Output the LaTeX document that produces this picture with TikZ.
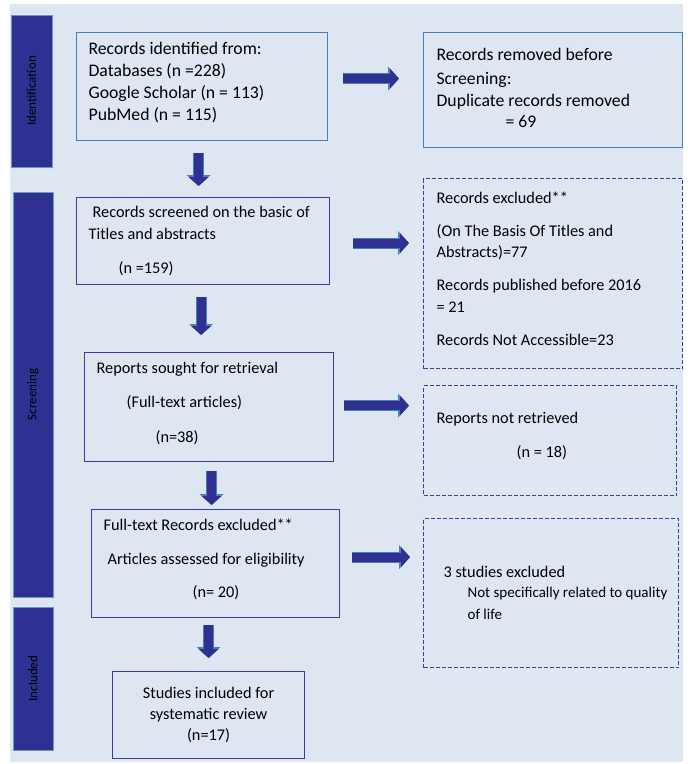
\documentclass[tikz,border=0pt]{standalone}
\usepackage{fontspec}
\setmainfont{Carlito}
\usetikzlibrary{arrows.meta}
\definecolor{paleblue}{HTML}{DEE6F2}
\definecolor{barnavy}{HTML}{2E3192}
\definecolor{steel}{HTML}{4A7EBB}
\definecolor{inkblue}{HTML}{3C3CA0}
\definecolor{barline}{HTML}{6A96C8}
\newcommand{\sink}[1]{\rule[-#1]{0pt}{0pt}}
\tikzset{
  box/.style={draw=inkblue, line width=1.2pt, anchor=north west, align=flush left,
    inner xsep=12pt, inner ysep=0pt, font=\fontsize{16.3}{21.5}\selectfont},
  firstbox/.style={box, draw=steel, font=\fontsize{17.7}{21.7}\selectfont},
  dashbox/.style={box, dash pattern=on 4pt off 2pt, inner xsep=13pt},
  stagebar/.style={fill=barnavy, draw=barline, line width=1pt, rotate=90, text=black,
    inner sep=0pt, font=\fontsize{13}{15}\selectfont},
  fat/.style={barnavy, line width=9pt,
    -{Triangle[length=9pt,width=20pt,line width=0pt]},
    preaction={draw=steel, line width=11pt,
      -{Triangle[length=11pt,width=24pt,line width=0pt]}}},
}
\begin{document}
\begin{tikzpicture}[x=1pt,y=-1pt]
\useasboundingbox (0,0) rectangle (688,764);
\fill[paleblue] (10,4) rectangle (683,762);
% stage bars
\node[stagebar, minimum width=152pt, minimum height=41pt] (idbar) at (31.5,91) {Identification};
\node[stagebar, minimum width=405pt, minimum height=40pt] (scrbar) at (33,394.5) {Screening};
\node[stagebar, minimum width=143pt, minimum height=40pt] (incbar) at (33,678.5) {Included};
% main column
\node[firstbox, text width=227pt, minimum height=108pt] (ident) at (76,32)
  {Records identified from:\\ Databases (n =228)\\ Google Scholar (n = 113)\\ PubMed (n = 115)\sink{10.5pt}};
\node[box, text width=229pt, minimum height=87pt] (screened) at (76,197)
  {\hspace*{4pt}Records screened on the basic of\\ Titles and abstracts\\[12.3pt] \hspace*{30pt}(n =159)};
\node[box, text width=225pt, minimum height=109pt] (sought) at (84,352)
  {Reports sought for retrieval\\[13pt] \hspace*{30pt}(Full-text articles)\\[13pt] \hspace*{59pt}(n=38)\sink{10.5pt}};
\node[box, text width=224pt, minimum height=108pt] (fulltext) at (91,509)
  {Full-text Records excluded**\\[12.3pt] \hspace*{4pt}Articles assessed for eligibility\\[12.3pt] \hspace*{89pt}(n= 20)\sink{10.5pt}};
\node[box, align=flush center, text width=168pt, minimum height=87pt] (incl) at (112,671)
  {Studies included for\\[-1pt] systematic review\\ (n=17)};
% side column
\node[firstbox, inner xsep=13pt, text width=233pt, minimum height=115pt] (removed) at (423,32)
  {Records removed before\\[2pt] Screening:\\ Duplicate records removed\\ \hspace*{69pt}= 69\sink{4pt}};
\node[dashbox, text width=233pt, minimum height=190pt] (excl) at (423,178)
  {Records excluded**\\[11.5pt] (On The Basis Of Titles and\\ Abstracts)=77\\[11.5pt]
   Records published before 2016\\ = 21\\[11.5pt] Records Not Accessible=23\sink{10pt}};
\node[dashbox, text width=227pt, minimum height=110pt] (notretr) at (423,385)
  {Reports not retrieved\\[13pt] \hspace*{80pt}(n = 18)\sink{11.5pt}};
\node[dashbox, inner xsep=8pt, text width=239pt, minimum height=149pt] (qol) at (423,518)
  {\hspace*{12pt}3 studies excluded\\
   {\fontsize{15}{20}\selectfont\hspace*{36pt}Not specifically related to quality\\ \hspace*{36pt}of life}};
% arrows
\draw[fat, shorten <=12pt, shorten >=11pt] ([xshift=-3.5pt]ident.south) -- ([xshift=-3.5pt]ident.south |- screened.north);
\draw[fat, shorten <=12pt, shorten >=17pt] ([xshift=-2pt]screened.south) -- ([xshift=-2pt]screened.south |- sought.north);
\draw[fat, shorten <=9pt, shorten >=4pt] ([xshift=2.5pt]sought.south) -- ([xshift=2.5pt]sought.south |- fulltext.north);
\draw[fat, shorten <=7pt, shorten >=13pt] (incl.north |- fulltext.south) -- (incl.north);
\draw[fat, shorten <=15pt, shorten >=24pt] ([yshift=8pt]ident.east) -- ([yshift=8pt]ident.east -| removed.west);
\draw[fat, shorten <=23pt, shorten >=14pt] ([yshift=-2pt]screened.east) -- ([yshift=-2pt]screened.east -| excl.west);
\draw[fat, shorten <=10pt, shorten >=14pt] ([yshift=1.5pt]sought.east) -- ([yshift=1.5pt]sought.east -| notretr.west);
\draw[fat, shorten <=12pt, shorten >=13pt] ([yshift=6.5pt]fulltext.east) -- ([yshift=6.5pt]fulltext.east -| qol.west);
\end{tikzpicture}
\end{document}
